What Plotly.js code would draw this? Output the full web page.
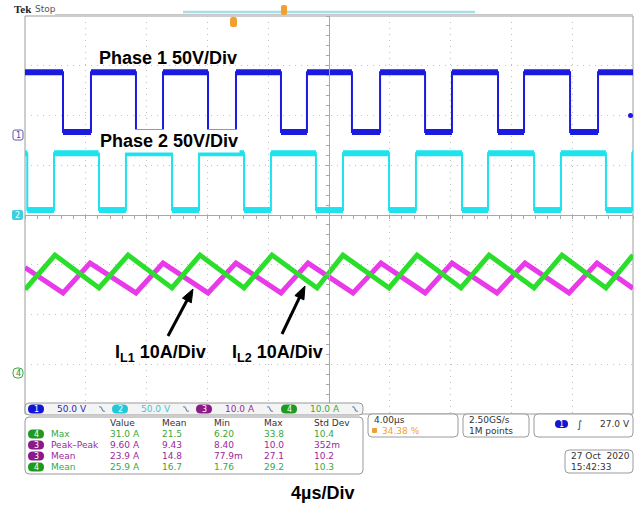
<!DOCTYPE html>
<html><head><meta charset="utf-8">
<script src="https://cdn.plot.ly/plotly-3.0.1.min.js"></script>
<style>html,body{margin:0;padding:0;background:#fff;}#chart{width:643px;height:506px;}</style>
</head><body><div id="chart"></div>
<script>
// ---------------- DATA (time in µs, volts, amps) ----------------
const phase1Time  = [-20, -17.50, -15.66, -12.70, -10.92, -7.96, -6.12, -3.16, -1.45, 1.51, 3.36, 6.32, 8.09, 11.12, 12.83, 15.86, 17.70, 20];
const phase1Volts = [63, 3, 63, 3, 63, 3, 63, 3, 63, 3, 63, 3, 63, 3, 63, 3, 63, 63];

const phase2Time  = [-20, -19.85, -18.09, -15.13, -13.36, -10.33, -8.55, -5.59, -3.82, -0.86, 0.92, 3.95, 5.72, 8.75, 10.46, 13.49, 15.26, 18.22, 19.95, 20];
const phase2Volts = [62, 5, 62, 5, 62, 5, 62, 5, 62, 5, 62, 5, 62, 5, 62, 5, 62, 5, 62, 62];

const iL1Time = [-20, -17.50, -15.72, -12.70, -10.92, -7.96, -6.12, -3.16, -1.38, 1.58, 3.42, 6.32, 8.09, 11.05, 12.89, 15.79, 17.63, 20];
const iL1Amps = [21.2, 16.1, 22.1, 16.1, 22.1, 16.1, 22.1, 16.1, 22.1, 16.1, 22.1, 16.1, 22.1, 16.1, 22.1, 16.1, 22.1, 17.0];

const iL2Time = [-20, -19.9, -18.03, -15.13, -13.22, -10.33, -8.49, -5.59, -3.75, -0.79, 0.92, 3.95, 5.79, 8.68, 10.53, 13.49, 15.33, 18.22, 20];
const iL2Amps = [17.2, 17.1, 23.7, 17.1, 23.7, 17.1, 23.7, 17.1, 23.7, 17.1, 23.7, 17.1, 23.7, 17.1, 23.7, 17.1, 23.7, 17.1, 23.7];

// channel settings (scale per division, vertical position in divisions)
const chScale = [50, 50, 10, 10];
const chPos   = [1.608, 0, -3.176, -3.176];
const chLabel = ['50.0 V', '50.0 V', '10.0 A', '10.0 A'];

// measurement table
const measHeader = ['Value', 'Mean', 'Min', 'Max', 'Std Dev'];
const measCh     = [4, 3, 3, 4];
const measName   = ['Max', 'Peak\u2013Peak', 'Mean', 'Mean'];
const measValue  = ['31.0 A', '9.60 A', '23.9 A', '25.9 A'];
const measMean   = ['21.5', '9.43', '14.8', '16.7'];
const measMin    = ['6.20', '8.40', '77.9m', '1.76'];
const measMax    = ['33.8', '10.0', '27.1', '29.2'];
const measStd    = ['10.4', '352m', '10.2', '10.3'];

// ---------------- helpers ----------------
const L = 25, R = 633, T = 16, B = 414;
const PX = x => (x - L) / (R - L);
const PY = y => (B - y) / (B - T);
const toDiv = (arr, ch) => arr.map(v => v / chScale[ch] + chPos[ch]);
function levelsOnly(t, v) {
  const xs = [], ys = [];
  for (let i = 0; i < t.length - 1; i++) { xs.push(t[i], t[i + 1], null); ys.push(v[i], v[i], null); }
  return [xs, ys];
}
const COL = {c1: '#1a1ae0', c2: '#1ee3ee', c3: '#e83ae8', c4: '#2cde2c'};
const TXT = {c1: '#2626c8', c2: '#38c8d6', c3: '#9a2a9a', c4: '#3aa83a'};
const PILL = {c1: '#1414d2', c2: '#22c8d8', c3: '#8a1a8a', c4: '#1e9a1e'};

const traces = [];
function square(t, v, ch, col) {
  const y = toDiv(v, ch);
  traces.push({x: t, y: y, type: 'scatter', mode: 'lines', line: {shape: 'hv', color: col, width: 2}, hoverinfo: 'skip'});
  const [lx, ly] = levelsOnly(t, y);
  traces.push({x: lx, y: ly, type: 'scatter', mode: 'lines', line: {color: col, width: 6}, hoverinfo: 'skip', connectgaps: false});
}
square(phase1Time, phase1Volts, 0, COL.c1);
square(phase2Time, phase2Volts, 1, COL.c2);
traces.push({x: iL1Time, y: toDiv(iL1Amps, 2), type: 'scatter', mode: 'lines', line: {color: COL.c3, width: 5}, hoverinfo: 'skip'});
traces.push({x: iL2Time, y: toDiv(iL2Amps, 3), type: 'scatter', mode: 'lines', line: {color: COL.c4, width: 5}, hoverinfo: 'skip'});

const shapes = [];
const ann = [];
function rrect(x0, y0, x1, y1, r, fill, line) {
  const rx = r / (R - L), ry = r / (B - T);
  const a = PX(x0), b = PX(x1), top = PY(y0), bot = PY(y1);
  const p = `M${a + rx},${top} L${b - rx},${top} Q${b},${top} ${b},${top - ry} L${b},${bot + ry} Q${b},${bot} ${b - rx},${bot} L${a + rx},${bot} Q${a},${bot} ${a},${bot + ry} L${a},${top - ry} Q${a},${top} ${a + rx},${top} Z`;
  shapes.push({type: 'path', xref: 'paper', yref: 'paper', path: p, fillcolor: fill, line: {color: line || fill, width: line ? 1 : 0}, layer: 'above'});
}
function txt(x, y, text, o) {
  ann.push(Object.assign({xref: 'paper', yref: 'paper', x: PX(x), y: PY(y), text: text, showarrow: false,
    xanchor: 'left', yanchor: 'middle', font: {family: 'DejaVu Sans', size: 9, color: '#333'}}, o || {}));
}
function pill(x0, y0, x1, y1, n, fill) {
  rrect(x0, y0, x1, y1, (y1 - y0) / 2, fill);
  txt((x0 + x1) / 2, (y0 + y1) / 2 + 0.5, String(n), {xanchor: 'center', font: {family: 'DejaVu Sans', size: 8, color: '#fff'}});
}
function arrow(x0, y0, x1, y1) {
  const dx = x1 - x0, dy = y1 - y0, len = Math.hypot(dx, dy), ux = dx / len, uy = dy / len;
  const hl = 13, hw = 5;
  const bx = x1 - ux * hl, by = y1 - uy * hl;
  shapes.push({type: 'line', xref: 'paper', yref: 'paper', x0: PX(x0), y0: PY(y0), x1: PX(bx + ux * 2), y1: PY(by + uy * 2), line: {color: '#000', width: 3}, layer: 'above'});
  const p = `M${PX(x1)},${PY(y1)} L${PX(bx - uy * hw)},${PY(by + ux * hw)} L${PX(bx + uy * hw)},${PY(by - ux * hw)} Z`;
  shapes.push({type: 'path', xref: 'paper', yref: 'paper', path: p, fillcolor: '#000', line: {color: '#000', width: 1}, layer: 'above'});
}
function bwIcon(x, y) {
  const p = `M${PX(x - 3)},${PY(y - 2)} Q${PX(x - 1)},${PY(y - 3)} ${PX(x)},${PY(y)} Q${PX(x + 1)},${PY(y + 3)} ${PX(x + 3)},${PY(y + 2)}`;
  shapes.push({type: 'path', xref: 'paper', yref: 'paper', path: p, line: {color: '#6a8ab0', width: 1.2}, layer: 'above'});
}

// graticule frame
shapes.push({type: 'rect', xref: 'paper', yref: 'paper', x0: 0, x1: 1, y0: 0, y1: 1, line: {color: '#9c9c9c', width: 1}, layer: 'below'});

// top bar
shapes.push({type: 'line', xref: 'paper', yref: 'paper', x0: PX(55), x1: PX(633), y0: PY(14.5), y1: PY(14.5), line: {color: '#c8c8c8', width: 1}});
shapes.push({type: 'line', xref: 'paper', yref: 'paper', x0: PX(183), x1: PX(475), y0: PY(12), y1: PY(12), line: {color: '#a9dbe8', width: 2.5}});
rrect(281, 5, 287, 15, 2, '#f0a030');
rrect(230, 17, 237, 27, 2.5, '#f0a030');
txt(12, 9, '<b>Tek</b>', {font: {family: 'Liberation Serif', size: 11, color: '#222'}});
txt(33, 9, 'Stop', {font: {family: 'DejaVu Sans', size: 9, color: '#555'}});

// channel ground markers
rrect(13, 130, 23, 140, 2, '#ffffff', '#5a5ab4');
txt(18, 135, '1', {xanchor: 'center', font: {family: 'DejaVu Sans', size: 8, color: '#4646b0'}});
rrect(12, 210, 23, 220, 2, '#3ccfe0');
txt(17.5, 215, '2', {xanchor: 'center', font: {family: 'DejaVu Sans', size: 8, color: '#fff'}});
rrect(13, 368, 23, 378, 4, '#ffffff', '#3aa83a');
txt(18, 373, '4', {xanchor: 'center', font: {family: 'DejaVu Sans', size: 8, color: '#2a8a2a'}});
shapes.push({type: 'circle', xref: 'paper', yref: 'paper', x0: PX(628), x1: PX(633), y0: PY(113), y1: PY(118), fillcolor: COL.c1, line: {width: 0}});

// big labels
const big = {family: 'Liberation Sans', size: 18, color: '#000'};
txt(168, 58, '<b>Phase 1 50V/Div</b>', {xanchor: 'center', font: big});
txt(169, 141, '<b>Phase 2 50V/Div</b>', {xanchor: 'center', font: big, bgcolor: '#ffffff', borderpad: 1});
txt(160, 353, '<b>I<sub>L1</sub> 10A/Div</b>', {xanchor: 'center', font: big});
txt(277, 353, '<b>I<sub>L2</sub> 10A/Div</b>', {xanchor: 'center', font: big});
txt(322, 493, '<b>4\u00b5s/Div</b>', {xanchor: 'center', font: big});
arrow(168, 336, 193, 289);
arrow(282, 334, 305, 286);

// channel readout bar
rrect(25, 403, 363, 415, 4, '#f4f4f4', '#9a9a9a');
const pillCols = [PILL.c1, PILL.c2, PILL.c3, PILL.c4];
const txtCols = [TXT.c1, TXT.c2, TXT.c3, TXT.c4];
const barX = [28, 112, 196, 281];
for (let i = 0; i < 4; i++) {
  pill(barX[i], 404.5, barX[i] + 16, 413.5, i + 1, pillCols[i]);
  txt(barX[i] + 27, 409, chLabel[i], {font: {family: 'DejaVu Sans', size: 9, color: txtCols[i]}});
  bwIcon(barX[i] + 74, 409);
}

// measurement table
rrect(25, 417, 363, 474, 4, '#ffffff', '#9a9a9a');
const colX = [108, 160, 212, 262, 312];
measHeader.forEach((h, j) => txt(colX[j], 423, h, {font: {family: 'DejaVu Sans', size: 9, color: '#333'}}));
for (let r = 0; r < 4; r++) {
  const y = 434 + r * 11;
  const ch = measCh[r] - 1;
  const c = txtCols[ch];
  pill(28, y - 4.5, 44, y + 4.5, measCh[r], pillCols[ch]);
  txt(49, y, measName[r], {font: {family: 'DejaVu Sans', size: 9, color: c}});
  [measValue[r], measMean[r], measMin[r], measMax[r], measStd[r]].forEach((v, j) =>
    txt(colX[j], y, v, {font: {family: 'DejaVu Sans', size: 9, color: c}}));
}

// timebase / acquisition / trigger boxes
rrect(368, 414, 458, 437, 4, '#ffffff', '#9a9a9a');
txt(372, 420, '4.00\u00b5s', {font: {family: 'DejaVu Sans', size: 9, color: '#333'}});
rrect(372, 428, 377, 433, 1, '#f0a030');
txt(380, 431, '34.38 %', {font: {family: 'DejaVu Sans', size: 9, color: '#f0a030'}});
rrect(463, 414, 529, 437, 4, '#ffffff', '#9a9a9a');
txt(467, 420, '2.50GS/s', {font: {family: 'DejaVu Sans', size: 9, color: '#333'}});
txt(467, 431, '1M points', {font: {family: 'DejaVu Sans', size: 9, color: '#333'}});
rrect(534, 414, 633, 437, 4, '#ffffff', '#9a9a9a');
pill(555, 420, 568, 428, 1, PILL.c1);
txt(579, 424, '\u222b', {xanchor: 'center', font: {family: 'DejaVu Sans', size: 10, color: '#333'}});
txt(598, 424, '27.0 V', {font: {family: 'DejaVu Sans', size: 9, color: '#333'}});
rrect(565, 450, 633, 473, 4, '#ffffff', '#9a9a9a');
txt(569, 456, '27 Oct  2020', {font: {family: 'DejaVu Sans', size: 9, color: '#333'}});
txt(569, 467, '15:42:33', {font: {family: 'DejaVu Sans', size: 9, color: '#333'}});

const layout = {
  width: 643, height: 506, margin: {l: L, r: 643 - R, t: T, b: 506 - B, pad: 0},
  paper_bgcolor: '#ffffff', plot_bgcolor: '#ffffff', showlegend: false,
  xaxis: {range: [-20, 20], tick0: -20, dtick: 4, showgrid: true, gridcolor: '#c2c2c2', griddash: '1px,5px', gridwidth: 1,
          zeroline: false, showticklabels: false, anchor: 'free', position: 0.5, showline: true, linecolor: '#a8a8a8', linewidth: 1,
          ticks: 'outside', ticklen: 3, tickcolor: '#a8a8a8', minor: {dtick: 0.8, ticks: 'outside', ticklen: 3, tickcolor: '#a8a8a8', showgrid: false}},
  yaxis: {range: [-4, 4], tick0: -4, dtick: 1, showgrid: true, gridcolor: '#c2c2c2', griddash: '1px,5px', gridwidth: 1,
          zeroline: false, showticklabels: false, anchor: 'free', position: 0.5, showline: true, linecolor: '#a8a8a8', linewidth: 1,
          ticks: 'outside', ticklen: 3, tickcolor: '#a8a8a8', minor: {dtick: 0.2, ticks: 'outside', ticklen: 3, tickcolor: '#a8a8a8', showgrid: false}},
  shapes: shapes, annotations: ann
};
Plotly.newPlot('chart', traces, layout, {displayModeBar: false, staticPlot: true});
</script></body></html>
